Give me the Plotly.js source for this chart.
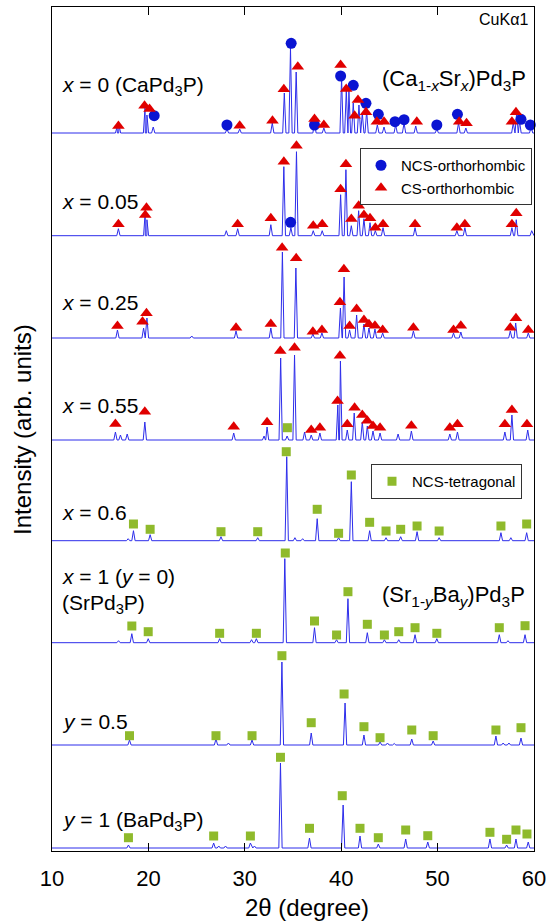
<!DOCTYPE html>
<html>
<head>
<meta charset="utf-8">
<script src="https://cdn.plot.ly/plotly-3.0.1.min.js"></script>
<style>html,body{margin:0;padding:0;background:#fff}#chart{width:553px;height:924px}</style>
</head>
<body>
<div id="chart"></div>
<script>
// ---------- DATA (2θ in degrees, intensity in arb. units above each pattern's baseline) ----------
const patternLabels = ['x = 0', 'x = 0.05', 'x = 0.25', 'x = 0.55', 'x = 0.6', 'x = 1 (y = 0)', 'y = 0.5', 'y = 1'];
const patternOffsets = [718, 615.3, 513, 411, 310.3, 208.3, 106, 3];

// x = 0 (CaPd3P)
const peaks2T_p1 = [16.75, 16.95, 19.65, 19.85, 20.5, 28.15, 29.47, 32.85, 34.1, 34.74, 35.33, 37.23, 38.2, 40.04, 40.53, 40.8, 41.25, 41.84, 42.19, 42.64, 43.75, 44.44, 45.65, 46.52, 47.73, 49.92, 52.17, 52.93, 57.85, 58.2, 58.5, 59.7];
const peaksI_p1  = [6, 8, 25, 18, 6, 4, 4, 10, 40, 85, 61, 10, 5, 55, 43, 43, 30, 28, 20, 22, 8, 6, 8, 10, 7, 4, 10, 5, 10, 20, 12, 6];
// x = 0.05
const peaks2T_p2 = [16.89, 19.67, 19.85, 28.08, 29.26, 32.7, 34.05, 34.78, 35.36, 37.1, 38.03, 39.94, 40.49, 41.05, 41.81, 42.36, 42.99, 43.54, 44.34, 47.66, 52.0, 52.83, 57.71, 58.16, 59.76];
const peaksI_p2  = [7, 24, 16, 5, 7, 11, 69, 8, 84, 5, 5, 41, 66, 10, 25, 17, 13, 5, 8, 8, 5, 8, 8, 16, 5];
// x = 0.25
const peaks2T_p3 = [16.79, 19.5, 19.85, 24.5, 29.09, 32.7, 33.9, 35.3, 37.06, 38.0, 39.92, 40.3, 40.87, 41.6, 42.36, 42.88, 43.5, 44.3, 47.49, 51.65, 52.41, 57.54, 58.1, 59.41];
const peaksI_p3  = [8, 10, 20, 2, 7, 10, 86, 70, 4, 5, 30, 61, 8, 23, 14, 10, 9, 5, 7, 5, 6, 7, 15, 5];
// x = 0.55
const peaks2T_p4 = [16.58, 17.1, 17.8, 19.63, 28.85, 32.0, 32.31, 33.72, 34.39, 35.16, 36.2, 36.89, 37.79, 39.65, 39.92, 40.63, 41.35, 42.19, 42.71, 43.3, 44.03, 45.9, 47.28, 51.27, 52.06, 56.98, 57.71, 59.35];
const peaksI_p4  = [8, 5, 6, 18, 7, 4, 13, 82, 4, 85, 8, 5, 7, 35, 79, 10, 27, 18, 14, 9, 7, 6, 9, 6, 8, 8, 25, 10];
// x = 0.6
const peaks2T_p5 = [17.9, 18.45, 20.18, 27.53, 31.34, 34.35, 35.2, 36.0, 37.51, 39.73, 41.05, 42.95, 44.65, 46.17, 47.87, 50.16, 56.57, 57.6, 59.24];
const peaksI_p5  = [2, 10, 6, 4, 3, 84, 3, 2, 22, 3, 59, 10, 3, 4, 9, 3, 8, 3, 8];
// x = 1 (y = 0, SrPd3P)
const peaks2T_p6 = [16.9, 18.28, 19.98, 27.39, 30.7, 31.2, 34.15, 37.23, 39.52, 40.7, 42.71, 44.48, 45.97, 47.66, 49.92, 56.4, 57.3, 59.07];
const peaksI_p6  = [2, 9, 4, 4, 3, 4, 84, 15, 3, 44, 10, 3, 3, 8, 4, 8, 2, 8];
// y = 0.5
const peaks2T_p7 = [18.04, 27.01, 28.3, 30.75, 33.85, 36.89, 40.4, 42.36, 44.03, 44.8, 45.5, 47.32, 49.54, 56.05, 56.8, 57.4, 58.65];
const peaksI_p7  = [5, 6, 2, 5, 83, 12, 42, 10, 3, 2, 1.5, 6, 4, 9, 2, 2, 7];
// y = 1 (BaPd3P)
const peaks2T_p8 = [17.93, 26.77, 27.3, 28.0, 30.58, 31.0, 33.7, 36.71, 40.2, 41.95, 43.85, 46.69, 48.98, 55.43, 57.16, 58.13, 59.4];
const peaksI_p8  = [3, 5, 2, 2, 5, 2, 85, 10, 43, 12, 4, 9, 6, 9, 3, 9, 6];

// Phase markers: pattern index, 2θ position, height above baseline
const circPattern = [0,0,0,0,0,0,0,0,0,0,0,0,0,0, 1];
const circ2T      = [20.6, 28.15, 34.81, 37.23, 39.94, 41.25, 42.57, 43.85, 45.58, 46.52, 49.92, 52.06, 58.65, 59.62, 34.75];
const circH       = [17.3, 8, 89.7, 8, 57, 47.7, 29.7, 18.7, 11.3, 13.3, 8, 18.7, 13.7, 8, 13.4];

const triPattern = [
  0,0,0,0,0,0,0,0,0,0,0,0,0,0,0,0,0,0,0,0,0,
  1,1,1,1,1,1,1,1,1,1,1,1,1,1,1,1,1,1,1,1,1,1,
  2,2,2,2,2,2,2,2,2,2,2,2,2,2,2,2,2,2,2,2,2,2,2,
  3,3,3,3,3,3,3,3,3,3,3,3,3,3,3,3,3,3,3,3,3,3];
const tri2T = [
  16.89, 19.6, 20.12, 29.47, 32.87, 34.05, 35.5, 37.23, 38.2, 39.94, 40.52, 41.39, 41.74, 42.57, 43.7, 44.44, 47.84, 52.24, 53.0, 57.71, 58.13,
  16.89, 19.67, 19.8, 29.26, 32.7, 34.05, 35.36, 37.1, 38.03, 39.94, 40.49, 41.05, 41.81, 42.36, 42.99, 43.54, 44.34, 47.66, 52.0, 52.83, 57.71, 58.16,
  16.79, 19.39, 19.8, 29.09, 32.7, 33.87, 35.33, 37.06, 38.0, 39.87, 40.28, 40.87, 41.6, 42.36, 42.88, 43.5, 44.3, 47.49, 51.65, 52.41, 57.54, 58.13, 59.41,
  16.58, 19.63, 28.85, 32.31, 33.68, 35.16, 36.89, 37.79, 39.62, 39.87, 40.63, 41.39, 42.19, 42.71, 43.3, 44.03, 47.28, 51.27, 52.06, 56.98, 57.71, 59.27];
const triH = [
  7, 27.3, 24, 7.3, 12.3, 43.7, 66.3, 14, 8, 68, 44, 17.3, 33, 20.7, 11.3, 11.3, 11.3, 11.3, 9.7, 11.3, 20.7,
  11.4, 20.7, 28, 11.4, 17.4, 74, 90, 10, 11.4, 46.4, 71.4, 16.7, 30, 20.7, 17.4, 8, 11.4, 11.4, 8, 11.4, 11.4, 22.4,
  12, 16.3, 24.7, 10.3, 14, 90.3, 79.7, 6.3, 8, 35.7, 68.7, 12, 29, 18, 13.7, 12.3, 8, 10.3, 8, 12.3, 10.3, 19.7, 8,
  16, 28.3, 13.3, 17.7, 89, 92.3, 10, 12.3, 39, 84.3, 15.7, 32.3, 25, 19.3, 14, 12.3, 14.3, 12.3, 15.7, 15.7, 30, 15.7];

const sqPattern = [
  3,
  4,4,4,4,4,4,4,4,4,4,4,4,4,4,4,
  5,5,5,5,5,5,5,5,5,5,5,5,5,5,5,
  6,6,6,6,6,6,6,6,6,6,6,6,
  7,7,7,7,7,7,7,7,7,7,7,7,7,7];
const sq2T = [
  34.42,
  18.45, 20.18, 27.53, 31.34, 34.3, 37.51, 39.73, 41.05, 42.95, 44.65, 46.17, 47.87, 50.16, 56.57, 59.24,
  18.28, 19.98, 27.39, 31.2, 34.2, 37.23, 39.52, 40.7, 42.71, 44.48, 45.97, 47.66, 49.92, 56.4, 59.07,
  18.04, 27.01, 30.75, 33.85, 36.89, 40.3, 42.36, 44.03, 47.32, 49.54, 56.05, 58.65,
  17.93, 26.77, 30.58, 33.7, 36.71, 40.11, 41.95, 43.85, 46.69, 48.98, 55.43, 57.16, 58.13, 59.27];
const sqH = [
  12.3,
  16.7, 11.4, 9, 9, 89, 31.4, 7.4, 65.7, 18.4, 9.7, 11.4, 14.7, 9.7, 14.7, 16.7,
  16.7, 11, 9.4, 9.4, 89.7, 21.7, 7.7, 51, 18.4, 7.7, 11, 15, 9.4, 15, 17,
  9.3, 9.3, 9.3, 89.3, 22.3, 51, 18.3, 7.3, 15, 9.3, 15, 17.3,
  10.3, 12, 12, 90.7, 19.7, 52.3, 19.7, 10.3, 18, 12.3, 15.7, 8.7, 18, 14];

const xTickVals = [10, 20, 30, 40, 50, 60];

// ---------- BUILD ----------
const peakSets = [
  [peaks2T_p1, peaksI_p1], [peaks2T_p2, peaksI_p2], [peaks2T_p3, peaksI_p3], [peaks2T_p4, peaksI_p4],
  [peaks2T_p5, peaksI_p5], [peaks2T_p6, peaksI_p6], [peaks2T_p7, peaksI_p7], [peaks2T_p8, peaksI_p8]];
const HALF = 0.17;
const traces = [];
peakSets.forEach(([pos, hts], k) => {
  const off = patternOffsets[k];
  const pts = [[10, 0], [60, 0]];
  pos.forEach((p, i) => { pts.push([p - HALF, 0], [p, hts[i]], [p + HALF, 0]); });
  pts.sort((a, b) => a[0] - b[0]);
  traces.push({
    type: 'scatter', mode: 'lines', name: patternLabels[k], showlegend: false, hoverinfo: 'skip',
    x: pts.map(q => q[0]), y: pts.map(q => q[1] + off),
    line: {color: 'rgb(45,45,235)', width: 1}
  });
});
traces.push({
  type: 'scatter', mode: 'markers', name: 'NCS-orthorhombic', legend: 'legend',
  x: circ2T, y: circH.map((h, i) => h + patternOffsets[circPattern[i]]),
  marker: {symbol: 'circle', size: 11, color: '#0a14d2', line: {width: 0}}, cliponaxis: false
});
traces.push({
  type: 'scatter', mode: 'markers', name: 'CS-orthorhombic', legend: 'legend',
  x: tri2T, y: triH.map((h, i) => h + patternOffsets[triPattern[i]]),
  marker: {symbol: 'triangle-up', size: 11, color: '#e00000', line: {width: 0}}, cliponaxis: false
});
traces.push({
  type: 'scatter', mode: 'markers', name: 'NCS-tetragonal', legend: 'legend2',
  x: sq2T, y: sqH.map((h, i) => h + patternOffsets[sqPattern[i]]),
  marker: {symbol: 'square', size: 9, color: '#8fba2c', line: {width: 0}}, cliponaxis: false
});

const FONT = 'Liberation Sans, Arial, Helvetica, sans-serif';
const T = 7, B = 851, PH = B - T;
const yp = py => (B - py) / PH;
const xp = px => (px - 52) / 482;

const sampleText = [
  ['<i>x</i> = 0 (CaPd<sub>3</sub>P)', 86],
  ['<i>x</i> = 0.05', 201],
  ['<i>x</i> = 0.25', 303],
  ['<i>x</i> = 0.55', 405],
  ['<i>x</i> = 0.6', 512],
  ['<i>x</i> = 1 (<i>y</i> = 0)', 577],
  ['(SrPd<sub>3</sub>P)', 604],
  ['<i>y</i> = 0.5', 721],
  ['<i>y</i> = 1 (BaPd<sub>3</sub>P)', 821]
];
const annotations = sampleText.map(([t, py]) => ({
  text: t, xref: 'paper', yref: 'paper', x: xp(60), y: yp(py), xanchor: 'left', yanchor: 'middle',
  showarrow: false, font: {family: FONT, size: 21, color: '#000'}
}));
annotations.push({text: '(Ca<sub>1-<i>x</i></sub>Sr<sub><i>x</i></sub>)Pd<sub>3</sub>P', xref: 'paper', yref: 'paper',
  x: xp(528), y: yp(80), xanchor: 'right', yanchor: 'middle', showarrow: false, font: {family: FONT, size: 22, color: '#000'}});
annotations.push({text: '(Sr<sub>1-<i>y</i></sub>Ba<sub><i>y</i></sub>)Pd<sub>3</sub>P', xref: 'paper', yref: 'paper',
  x: xp(527), y: yp(596), xanchor: 'right', yanchor: 'middle', showarrow: false, font: {family: FONT, size: 22, color: '#000'}});
annotations.push({text: 'CuKα1', xref: 'paper', yref: 'paper', x: xp(530), y: yp(19), xanchor: 'right', yanchor: 'middle',
  showarrow: false, font: {family: FONT, size: 16, color: '#000'}});
annotations.push({text: '2θ (degree)', xref: 'paper', yref: 'paper', x: xp(307), y: yp(907), xanchor: 'center', yanchor: 'middle',
  showarrow: false, font: {family: FONT, size: 24, color: '#000'}});
annotations.push({text: 'Intensity (arb. units)', xref: 'paper', yref: 'paper', x: xp(22), y: yp(430), xanchor: 'center', yanchor: 'middle',
  textangle: -90, showarrow: false, font: {family: FONT, size: 24, color: '#000'}});

const layout = {
  width: 553, height: 924,
  margin: {l: 52, r: 19, t: T, b: 924 - B, pad: 0},
  paper_bgcolor: '#fff', plot_bgcolor: '#fff',
  font: {family: FONT, size: 14, color: '#000'},
  xaxis: {
    range: [10, 60], tickvals: xTickVals, ticktext: xTickVals.map(String),
    ticks: 'inside', ticklen: 8, tickwidth: 1, tickcolor: '#000',
    showline: true, linecolor: '#000', linewidth: 1, mirror: 'ticks',
    showgrid: false, zeroline: false, tickfont: {family: FONT, size: 22, color: '#000'},
    ticklabelstandoff: 8, fixedrange: true
  },
  yaxis: {
    range: [0, PH], showticklabels: false, ticks: '',
    showline: true, linecolor: '#000', linewidth: 1, mirror: true,
    showgrid: false, zeroline: false, fixedrange: true
  },
  legend: {
    x: xp(360), y: yp(148), xanchor: 'left', yanchor: 'top',
    bgcolor: '#fff', bordercolor: '#333', borderwidth: 1,
    font: {family: FONT, size: 15, color: '#000'}, tracegroupgap: 0
  },
  legend2: {
    x: xp(371), y: yp(464), xanchor: 'left', yanchor: 'top',
    bgcolor: '#fff', bordercolor: '#333', borderwidth: 1,
    font: {family: FONT, size: 15, color: '#000'}
  },
  annotations: annotations,
  showlegend: true
};

Plotly.newPlot('chart', traces, layout, {displayModeBar: false, staticPlot: true});
</script>
</body>
</html>
